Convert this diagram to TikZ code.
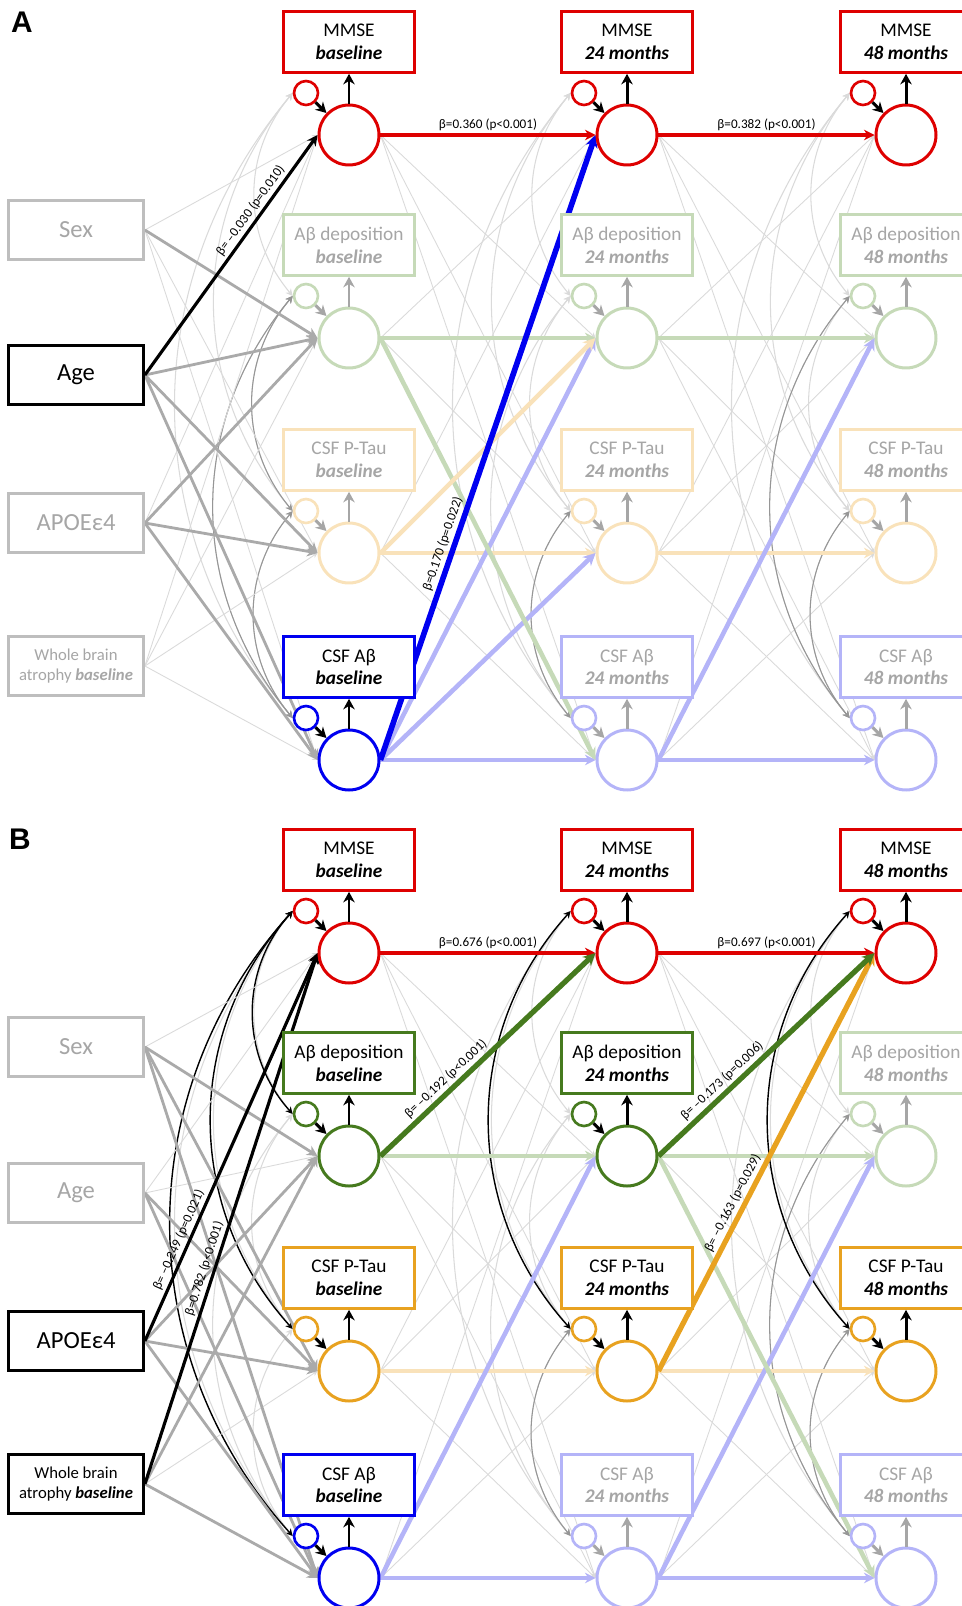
\documentclass[tikz,border=0pt]{standalone}
\usepackage{fontspec}
\setmainfont{Carlito}
\newfontfamily\panelsans{Liberation Sans}
\usepackage{tikz}
\usetikzlibrary{arrows.meta}

\definecolor{mmred}{RGB}{222,0,0}
\definecolor{abgreen}{RGB}{70,122,30}
\definecolor{abpale}{RGB}{198,218,184}
\definecolor{ptorange}{RGB}{232,162,32}
\definecolor{ptpale}{RGB}{249,226,186}
\definecolor{csblue}{RGB}{0,0,240}
\definecolor{cspale}{RGB}{180,180,248}
\definecolor{covgray}{RGB}{170,170,170}
\definecolor{boxgray}{RGB}{190,190,190}
\definecolor{txtgray}{RGB}{166,166,166}
\definecolor{faintgray}{RGB}{218,218,218}
\definecolor{curvegray}{RGB}{150,150,150}

\pgfdeclarelayer{bg}
\pgfsetlayers{bg,main}

\begin{document}
\begin{tikzpicture}[
    x=0.02cm, y=-0.02cm,
    lat/.style={circle, minimum size=1.2cm, inner sep=0pt, line width=1.7pt, fill=white},
    res/.style={circle, minimum size=0.48cm, inner sep=0pt, line width=1.5pt, fill=white},
    blk/.style={rectangle, minimum width=2.62cm, minimum height=1.22cm, line width=1.5pt, fill=white, align=center, font=\fontsize{11}{13}\selectfont},
    cov/.style={rectangle, minimum width=2.7cm, minimum height=1.18cm, line width=1.6pt, fill=white, align=center, font=\fontsize{14}{16}\selectfont},
    blkarr/.style={-{Stealth[length=6pt,width=6.5pt]}, line width=1.7pt},
    faint/.style={-{Stealth[length=3pt,width=3pt]}, draw=faintgray, line width=0.5pt},
    covarr/.style={-{Stealth[length=6pt,width=6pt]}, draw=covgray, line width=1.6pt},
    sigarr/.style={-{Stealth[length=6pt,width=6pt]}, draw=black, line width=1.8pt},
    autoreg/.style={-{Stealth[length=6pt,width=6pt]}, line width=1.8pt},
    lagarr/.style={-{Stealth[length=7pt,width=7pt]}, line width=2.6pt},
    covc/.style={{Stealth[length=4pt,width=4pt]}-{Stealth[length=4pt,width=4pt]}, line width=0.6pt},
    lbl/.style={font=\fontsize{7.5}{8.5}\selectfont, text=black, inner sep=1.5pt},
    panel/.style={font=\panelsans\bfseries\fontsize{17}{17}\selectfont}
  ]
\useasboundingbox (0,0) rectangle (962,1606);

% panel letters
\node[panel] (labA) at (22,22) {A};
\node[panel] (labB) at (20,839) {B};

% covariates
\node[cov, draw=boxgray, text=txtgray] (Asex) at (76,230) {Sex};
\node[cov, draw=black] (Aage) at (76,375) {Age};
\node[cov, draw=boxgray, text=txtgray] (Aapoe) at (76,523) {APOEε4};
\node[cov, draw=boxgray, text=txtgray, font=\fontsize{9.5}{11}\selectfont] (Awb) at (76,666) {Whole brain\\atrophy \textbf{\textit{baseline}}};
\node[cov, draw=boxgray, text=txtgray] (Bsex) at (76,1047) {Sex};
\node[cov, draw=boxgray, text=txtgray] (Bage) at (76,1193) {Age};
\node[cov, draw=black] (Bapoe) at (76,1341) {APOEε4};
\node[cov, draw=black, font=\fontsize{9.5}{11}\selectfont] (Bwb) at (76,1484) {Whole brain\\atrophy \textbf{\textit{baseline}}};

% latent blocks: circle, residual, indicator box
\foreach \nm/\px/\py/\lc/\ttl/\sbt/\tc in {
    Amm1/349/135/mmred/MMSE/baseline/black,
    Amm2/627/135/mmred/MMSE/24 months/black,
    Amm3/906/135/mmred/MMSE/48 months/black,
    Aab1/349/338/abpale/Aβ deposition/baseline/txtgray,
    Aab2/627/338/abpale/Aβ deposition/24 months/txtgray,
    Aab3/906/338/abpale/Aβ deposition/48 months/txtgray,
    Apt1/349/553/ptpale/CSF P-Tau/baseline/txtgray,
    Apt2/627/553/ptpale/CSF P-Tau/24 months/txtgray,
    Apt3/906/553/ptpale/CSF P-Tau/48 months/txtgray,
    Acs1/349/760/csblue/CSF Aβ/baseline/black,
    Acs2/627/760/cspale/CSF Aβ/24 months/txtgray,
    Acs3/906/760/cspale/CSF Aβ/48 months/txtgray,
    Bmm1/349/953/mmred/MMSE/baseline/black,
    Bmm2/627/953/mmred/MMSE/24 months/black,
    Bmm3/906/953/mmred/MMSE/48 months/black,
    Bab1/349/1156/abgreen/Aβ deposition/baseline/black,
    Bab2/627/1156/abgreen/Aβ deposition/24 months/black,
    Bab3/906/1156/abpale/Aβ deposition/48 months/txtgray,
    Bpt1/349/1371/ptorange/CSF P-Tau/baseline/black,
    Bpt2/627/1371/ptorange/CSF P-Tau/24 months/black,
    Bpt3/906/1371/ptorange/CSF P-Tau/48 months/black,
    Bcs1/349/1578/csblue/CSF Aβ/baseline/black,
    Bcs2/627/1578/cspale/CSF Aβ/24 months/txtgray,
    Bcs3/906/1578/cspale/CSF Aβ/48 months/txtgray}{
  \node[lat, draw=\lc] (\nm) at (\px,\py) {};
  \node[res, draw=\lc] (\nm-r) at (\px-43,\py-42) {};
  \node[blk, draw=\lc, text=\tc] (\nm-b) at (\px,\py-93) {\ttl\\\textbf{\textit{\sbt}}};
  \draw[blkarr, \tc] (\nm.north) -- (\nm-b.south);
  \draw[blkarr, \tc] (\nm-r) -- (\nm);
}

\begin{pgfonlayer}{bg}
% non-significant cross-lagged paths
\foreach \p in {A,B}{
  \foreach \ta/\tb in {1/2,2/3}{
    \foreach \ra [count=\i] in {mm,ab,pt,cs}{
      \foreach \rb [count=\j] in {mm,ab,pt,cs}{
        \ifnum\i=\j\else
          \draw[faint] (\p\ra\ta.east) -- (\p\rb\tb.west);
        \fi
      }}}}

% residual covariances
\foreach \p in {A,B}{
  \foreach \c in {1,2,3}{
    \foreach \ra/\rb in {mm/ab,mm/pt,mm/cs,ab/pt,ab/cs,pt/cs}{
      \draw[covc, faintgray] (\p\ra\c-r.west) to[bend right=40] (\p\rb\c-r.west);
    }}}
\foreach \p/\c/\ra/\rb in {A/1/ab/pt, A/1/ab/cs, A/1/pt/cs, A/2/pt/cs, A/3/ab/cs, A/3/pt/cs,
    B/2/pt/cs, B/3/ab/cs, B/3/pt/cs}{
  \draw[covc, curvegray] (\p\ra\c-r.west) to[bend right=40] (\p\rb\c-r.west);
}
\foreach \p/\c/\ra/\rb in {B/1/mm/ab, B/1/mm/pt, B/1/mm/cs, B/2/mm/pt, B/3/mm/pt}{
  \draw[covc, black, line width=0.8pt] (\p\ra\c-r.west) to[bend right=42] (\p\rb\c-r.west);
}

% covariate paths
\foreach \p/\cv/\ra in {A/sex/mm, A/sex/pt, A/sex/cs, A/apoe/mm, A/wb/mm, A/wb/ab, A/wb/pt, A/wb/cs,
    B/sex/mm, B/age/mm, B/age/ab, B/wb/pt}{
  \draw[faint] (\p\cv.east) -- (\p\ra1.west);
}
\foreach \p/\cv/\ra in {A/sex/ab, A/age/ab, A/age/pt, A/age/cs, A/apoe/ab, A/apoe/pt, A/apoe/cs,
    B/sex/ab, B/sex/pt, B/sex/cs, B/age/pt, B/age/cs, B/apoe/ab, B/apoe/pt, B/apoe/cs, B/wb/ab, B/wb/cs}{
  \draw[covarr] (\p\cv.east) -- (\p\ra1.west);
}

% autoregressive paths
\foreach \p in {A,B}{
  \foreach \ra/\clr in {ab/abpale, pt/ptpale, cs/cspale}{
    \draw[autoreg, \clr] (\p\ra1.east) -- (\p\ra2.west);
    \draw[autoreg, \clr] (\p\ra2.east) -- (\p\ra3.west);
  }}
\draw[autoreg, mmred] (Amm1.east) -- node[lbl, above] {β=0.360 (p<0.001)} (Amm2.west);
\draw[autoreg, mmred] (Amm2.east) -- node[lbl, above] {β=0.382 (p<0.001)} (Amm3.west);
\draw[autoreg, mmred] (Bmm1.east) -- node[lbl, above] {β=0.676 (p<0.001)} (Bmm2.west);
\draw[autoreg, mmred] (Bmm2.east) -- node[lbl, above] {β=0.697 (p<0.001)} (Bmm3.west);

% highlighted cross-lagged paths
\draw[lagarr, cspale] (Acs1.east) -- (Aab2.west);
\draw[lagarr, cspale] (Acs1.east) -- (Apt2.west);
\draw[lagarr, abpale] (Aab1.east) -- (Acs2.west);
\draw[lagarr, ptpale] (Apt1.east) -- (Aab2.west);
\draw[lagarr, cspale] (Acs2.east) -- (Aab3.west);
\draw[lagarr, csblue, line width=3.2pt] (Acs1.east) -- node[lbl, sloped, above, pos=0.34] {β=0.170 (p=0.022)} (Amm2.west);

\draw[lagarr, cspale] (Bcs1.east) -- (Bab2.west);
\draw[lagarr, cspale] (Bcs2.east) -- (Bab3.west);
\draw[lagarr, abpale] (Bab2.east) -- (Bcs3.west);
\draw[lagarr, abgreen, line width=3pt] (Bab1.east) -- node[lbl, sloped, above, pos=0.34] {β= –0.192 (p<0.001)} (Bmm2.west);
\draw[lagarr, ptorange, line width=3pt] (Bpt2.east) -- node[lbl, sloped, above, pos=0.39] {β= –0.163 (p=0.029)} (Bmm3.west);
\draw[lagarr, abgreen, line width=3pt] (Bab2.east) -- node[lbl, sloped, above, pos=0.33] {β= –0.173 (p=0.006)} (Bmm3.west);

% significant covariate paths
\draw[sigarr] (Aage.east) -- node[lbl, sloped, above, pos=0.66] {β= –0.030 (p=0.010)} (Amm1.west);
\draw[sigarr] (Bapoe.east) -- node[lbl, sloped, above, pos=0.25] {β= –0.249 (p=0.021)} (Bmm1.west);
\draw[sigarr] (Bwb.east) -- node[lbl, sloped, above, pos=0.40] {β=0.782 (p<0.001)} (Bmm1.west);
\end{pgfonlayer}
\end{tikzpicture}
\end{document}
